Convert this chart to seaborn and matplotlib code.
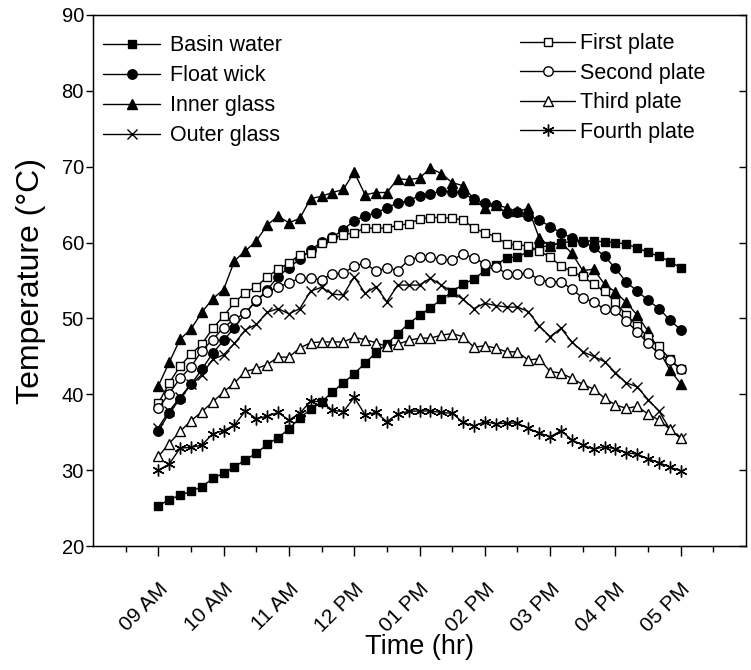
import numpy as np
import pandas as pd
import matplotlib
matplotlib.use("Agg")
import matplotlib.pyplot as plt
import seaborn as sns
from matplotlib.lines import Line2D
from matplotlib.ticker import FixedLocator, MultipleLocator

# ---------------- data (10-minute readings, 09:00 AM -> 05:00 PM) ----------------
minutes_after_9 = list(range(0, 481, 10))

basin_water = [25.3, 26.1, 26.7, 27.2, 27.8, 28.9, 29.6, 30.4, 31.4, 32.2,
               33.4, 34.3, 35.4, 36.9, 38.0, 39.0, 40.3, 41.5, 42.7, 44.1,
               45.5, 46.6, 48.0, 49.3, 50.4, 51.4, 52.5, 53.5, 54.5, 55.2,
               56.3, 57.0, 58.0, 58.1, 58.8, 59.4, 59.6, 60.0, 60.1, 60.2,
               60.2, 60.1, 60.0, 59.8, 59.3, 58.7, 58.2, 57.5, 56.7]
float_wick = [35.2, 37.5, 39.4, 41.3, 43.3, 45.4, 47.1, 48.8, 50.7, 52.3,
              53.75, 55.5, 56.7, 57.8, 59.0, 60.1, 60.7, 61.7, 62.9, 63.5,
              63.9, 64.6, 65.2, 65.5, 66.2, 66.4, 66.8, 66.7, 66.5, 65.7,
              65.2, 65.0, 63.85, 64.0, 63.5, 63.0, 62.1, 61.3, 60.6, 60.1,
              59.4, 58.2, 56.6, 54.8, 53.6, 52.4, 51.3, 49.8, 48.5]
inner_glass = [41.1, 44.2, 47.25, 48.6, 50.8, 52.6, 53.8, 57.6, 58.9, 60.2,
               62.3, 63.5, 62.6, 63.2, 65.8, 66.1, 66.6, 67.0, 69.3, 66.3,
               66.6, 66.6, 68.4, 68.3, 68.5, 69.8, 69.1, 67.9, 67.5, 65.7,
               64.6, 65.0, 64.6, 64.1, 64.5, 60.6, 59.5, 60.0, 58.6, 56.3,
               56.5, 54.5, 53.5, 52.1, 50.45, 48.3, 45.8, 43.2, 41.4]
outer_glass = [35.6, 37.8, 39.6, 41.3, 42.6, 44.6, 45.2, 46.7, 48.5, 49.2,
               50.8, 51.3, 50.6, 51.3, 53.6, 54.1, 53.2, 53.1, 55.5, 53.3,
               54.2, 52.2, 54.4, 54.4, 54.4, 55.3, 54.4, 53.5, 52.5, 51.3,
               52.0, 51.7, 51.5, 51.5, 50.9, 49.0, 47.6, 48.7, 46.9, 45.6,
               45.0, 44.3, 42.85, 41.5, 41.0, 39.3, 37.8, 35.4, 34.2]
first_plate = [38.8, 41.5, 43.7, 45.3, 46.6, 48.7, 50.3, 52.1, 53.4, 54.2,
               55.45, 56.5, 57.3, 58.4, 58.6, 59.9, 60.6, 61.0, 61.3, 61.9,
               61.9, 61.9, 62.3, 62.45, 63.1, 63.3, 63.3, 63.2, 63.0, 61.9,
               61.3, 60.8, 59.8, 59.7, 59.55, 58.9, 58.1, 56.9, 56.2, 55.55,
               54.5, 53.6, 52.1, 50.45, 49.0, 47.6, 46.3, 44.65, 43.3]
second_plate = [38.15, 40.1, 42.1, 43.6, 45.75, 47.2, 48.8, 49.9, 50.7, 52.4,
                53.5, 54.1, 54.7, 55.3, 55.3, 55.1, 55.9, 55.95, 56.9, 57.3,
                56.2, 56.7, 56.3, 57.7, 58.1, 58.05, 57.8, 57.7, 58.5, 58.0,
                57.2, 56.8, 55.9, 55.85, 56.0, 55.1, 54.85, 54.85, 53.85, 52.7,
                52.2, 51.2, 51.15, 49.65, 48.25, 46.7, 45.35, 44.5, 43.3]
third_plate = [31.8, 33.5, 35.1, 36.5, 37.7, 39.0, 40.3, 41.5, 43.0, 43.4,
               43.9, 44.9, 44.9, 46.1, 46.8, 46.9, 46.9, 46.9, 47.5, 47.2,
               46.8, 46.3, 46.6, 47.1, 47.4, 47.4, 47.8, 48.0, 47.6, 46.2,
               46.4, 46.1, 45.6, 45.6, 44.5, 44.7, 43.0, 42.8, 42.1, 41.3,
               40.7, 39.5, 38.6, 38.15, 38.4, 37.4, 36.6, 35.4, 34.2]
fourth_plate = [30.0, 30.8, 32.9, 33.0, 33.3, 34.8, 35.2, 35.95, 37.8, 36.8,
                37.1, 37.6, 36.6, 37.5, 39.1, 39.0, 37.9, 37.7, 39.6, 37.3,
                37.6, 36.4, 37.4, 37.75, 37.8, 37.8, 37.6, 37.5, 36.3, 35.8,
                36.4, 36.1, 36.2, 36.2, 35.5, 34.9, 34.4, 35.2, 34.0, 33.3,
                32.75, 33.1, 32.8, 32.3, 32.1, 31.5, 31.0, 30.4, 29.9]

tick_hours = [9, 10, 11, 12, 13, 14, 15, 16, 17]
tick_labels = ["09 AM", "10 AM", "11 AM", "12 PM", "01 PM", "02 PM", "03 PM", "04 PM", "05 PM"]

left_names = ["Basin water", "Float wick", "Inner glass", "Outer glass"]
right_names = ["First plate", "Second plate", "Third plate", "Fourth plate"]

# ---------------- styling ----------------
sns.set_style("ticks")
plt.rcParams['font.family'] = ['Liberation Sans', 'DejaVu Sans']
for k in ['text.color', 'axes.labelcolor', 'xtick.color', 'ytick.color', 'axes.edgecolor']:
    plt.rcParams[k] = 'black'

time_hr = 9 + np.array(minutes_after_9) / 60.0

series = {
    "Basin water": basin_water, "Float wick": float_wick,
    "Inner glass": inner_glass, "Outer glass": outer_glass,
    "First plate": first_plate, "Second plate": second_plate,
    "Third plate": third_plate, "Fourth plate": fourth_plate,
}
marker_style = {
    "Basin water": dict(marker='s', mfc='black', ms=6.2),
    "Float wick": dict(marker='o', mfc='black', ms=6.8),
    "Inner glass": dict(marker='^', mfc='black', ms=7.2),
    "Outer glass": dict(marker='x', mfc='black', ms=7.5),
    "First plate": dict(marker='s', mfc='white', ms=6.2),
    "Second plate": dict(marker='o', mfc='white', ms=6.8),
    "Third plate": dict(marker='^', mfc='white', ms=7.2),
    "Fourth plate": dict(marker=(6, 2, 0), mfc='black', ms=8.5),
}

df = pd.DataFrame({"time": np.tile(time_hr, len(series)),
                   "temp": np.concatenate([series[k] for k in series]),
                   "series": np.repeat(list(series.keys()), len(time_hr))})

fig = plt.figure(figsize=(7.51, 6.70), dpi=100)
ax = fig.add_axes([93 / 751, 1 - 546 / 670, (746 - 93) / 751, (546 - 15) / 670])

handles = {}
for name in series:
    st = marker_style[name]
    sub = df[df["series"] == name]
    sns.lineplot(data=sub, x="time", y="temp", ax=ax, color='black', linewidth=1.0,
                 marker=st['marker'], markersize=st['ms'],
                 markerfacecolor=st['mfc'], markeredgecolor='black',
                 markeredgewidth=1.0, legend=False)
    handles[name] = Line2D([], [], color='black', linewidth=1.0, marker=st['marker'],
                           markersize=st['ms'], markerfacecolor=st['mfc'],
                           markeredgecolor='black', markeredgewidth=1.0)

ax.set_xlim(8, 18)
ax.set_ylim(20, 90)
ax.xaxis.set_major_locator(FixedLocator(tick_hours))
ax.set_xticklabels(tick_labels, rotation=45, ha='right', va='top',
                   rotation_mode='anchor', fontsize=15)
ax.xaxis.set_minor_locator(FixedLocator([h + 0.5 for h in [8] + tick_hours]))
ax.yaxis.set_major_locator(MultipleLocator(10))
ax.tick_params(axis='y', labelsize=14.5, length=5, width=1, color='black', pad=1.5)
ax.tick_params(axis='x', which='major', length=7, width=1, color='black', pad=17)
ax.tick_params(axis='x', which='minor', length=4, width=1, color='black')
for sp in ax.spines.values():
    sp.set_visible(True)
    sp.set_color('black')
    sp.set_linewidth(1.0)

# inward ticks on right spine
axr = ax.twinx()
axr.set_ylim(20, 90)
axr.yaxis.set_major_locator(MultipleLocator(10))
axr.tick_params(axis='y', direction='in', length=5, width=1, labelright=False)

ax.set_xlabel("Time (hr)", fontsize=19.5, labelpad=-1)
ax.set_ylabel("Temperature (°C)", fontsize=23, labelpad=11)

leg1 = ax.legend([handles[n] for n in left_names], left_names, loc='upper left',
                 bbox_to_anchor=(0.0153, 0.962), frameon=False, fontsize=15.5,
                 handlelength=2.65, handletextpad=0.47, labelspacing=0.42,
                 borderaxespad=0, borderpad=0)
ax.add_artist(leg1)
ax.legend([handles[n] for n in right_names], right_names, loc='upper left',
          bbox_to_anchor=(0.654, 0.966), frameon=False, fontsize=15.5,
          handlelength=2.55, handletextpad=0.23, labelspacing=0.4,
          borderaxespad=0, borderpad=0)

fig.savefig("out.png", dpi=100)
